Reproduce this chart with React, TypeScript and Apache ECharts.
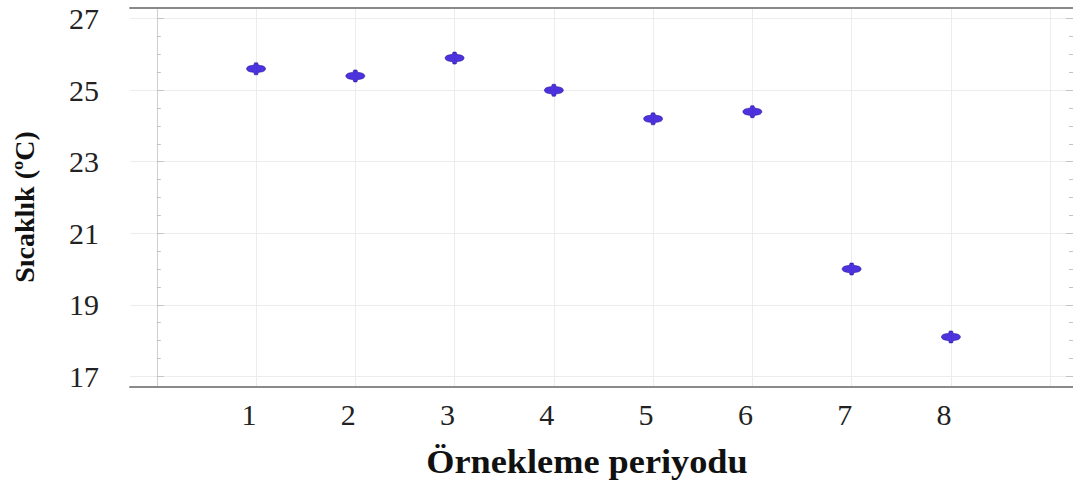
import React, { useEffect, useRef } from "react";
import * as echarts from "echarts";

const periods = [1, 2, 3, 4, 5, 6, 7, 8];
const temperatures = [25.6, 25.4, 25.9, 25.0, 24.2, 24.4, 20.0, 18.1];
const yMajorTicks = [17, 19, 21, 23, 25, 27];
const yMinorTicks = [17.5, 18, 18.5, 19.5, 20, 20.5, 21.5, 22, 22.5, 23.5, 24, 24.5, 25.5, 26, 26.5];
const xGridTicks = [0, 1, 2, 3, 4, 5, 6, 7, 8, 9];
const xLabelTicks = [1, 2, 3, 4, 5, 6, 7, 8];
const xTitle = "Örnekleme periyodu";
const yTitle = "Sıcaklık (ºC)";

const FONT = "Liberation Serif";
const GRID_COLOR = "#ececec";
const TICK_COLOR = "#c4c4c4";
const X_MIN = -0.27;
const X_MAX = 9.23;
const Y_MIN = 16.7;
const Y_MAX = 27.3;

const markerPath =
  "path://M0,6 C0,3.5 4,2.5 7,2.5 L8,0 L11,0 L12,2.5 C15,2.5 19,3.5 19,6 C19,8.5 15,9.5 12,9.5 L11,12 L8,12 L7,9.5 C4,9.5 0,8.5 0,6 Z";

export default function App() {
  const ref = useRef<HTMLDivElement>(null);
  useEffect(() => {
    if (!ref.current) return;
    const chart = echarts.init(ref.current, undefined, { renderer: "svg" });
    const yBase = (position: string, ticks: number[], len: number, main: boolean) => ({
      type: "value",
      position,
      min: Y_MIN,
      max: Y_MAX,
      axisLine: { show: main && position === "left", lineStyle: { color: "#cfcfcf", width: 1 } },
      axisTick: {
        show: true,
        inside: true,
        length: len,
        customValues: ticks,
        lineStyle: { color: TICK_COLOR, width: 1 },
      },
      splitLine: { show: main && position === "left", lineStyle: { color: GRID_COLOR, width: 1 } },
      axisLabel: main && position === "left"
        ? {
            show: true,
            customValues: yMajorTicks,
            fontFamily: FONT,
            fontSize: 30,
            color: "#222",
            margin: 31,
            padding: [8, 0, 0, 0],
          }
        : { show: false },
    });
    chart.setOption({
      animation: false,
      backgroundColor: "#ffffff",
      grid: { left: 130, right: 0, top: 8, bottom: 103, containLabel: false },
      xAxis: [
        {
          type: "value",
          position: "bottom",
          min: X_MIN,
          max: X_MAX,
          axisLine: { show: true, lineStyle: { color: "#8a8a8a", width: 2 } },
          axisTick: { show: false, customValues: xGridTicks },
          splitLine: { show: true, lineStyle: { color: GRID_COLOR, width: 1 } },
          axisLabel: {
            show: true,
            customValues: xLabelTicks,
            fontFamily: FONT,
            fontSize: 30,
            color: "#222",
            margin: 12,
            padding: [0, 14, 0, 0],
          },
        },
        {
          type: "value",
          position: "top",
          min: X_MIN,
          max: X_MAX,
          axisLine: { show: true, lineStyle: { color: "#8a8a8a", width: 2 } },
          axisTick: { show: false },
          splitLine: { show: false },
          axisLabel: { show: false },
        },
      ],
      yAxis: [
        yBase("left", yMajorTicks, 7, true),
        yBase("left", yMinorTicks, 4, false),
        yBase("right", yMajorTicks, 7, false),
        yBase("right", yMinorTicks, 4, false),
      ],
      graphic: [
        {
          type: "text",
          x: 587,
          y: 462,
          scaleX: 1.1,
          style: {
            text: xTitle,
            font: `bold 33px "${FONT}"`,
            fill: "#111",
            textAlign: "center",
            textVerticalAlign: "middle",
          },
        },
        {
          type: "text",
          x: 24,
          y: 207,
          rotation: Math.PI / 2,
          style: {
            text: yTitle,
            font: `bold 28px "${FONT}"`,
            fill: "#111",
            textAlign: "center",
            textVerticalAlign: "middle",
          },
        },
      ],
      series: [
        {
          type: "scatter",
          xAxisIndex: 0,
          yAxisIndex: 0,
          symbol: markerPath,
          symbolSize: [19, 12],
          itemStyle: { color: "#2000d4", borderColor: "#14008a", borderWidth: 0.6 },
          data: periods.map((p, i) => [p, temperatures[i]]),
        },
      ],
    });
    return () => chart.dispose();
  }, []);
  return (
    <div
      ref={ref}
      style={{ width: 1073, height: 490, position: "absolute", left: 0, top: 0 }}
    />
  );
}
